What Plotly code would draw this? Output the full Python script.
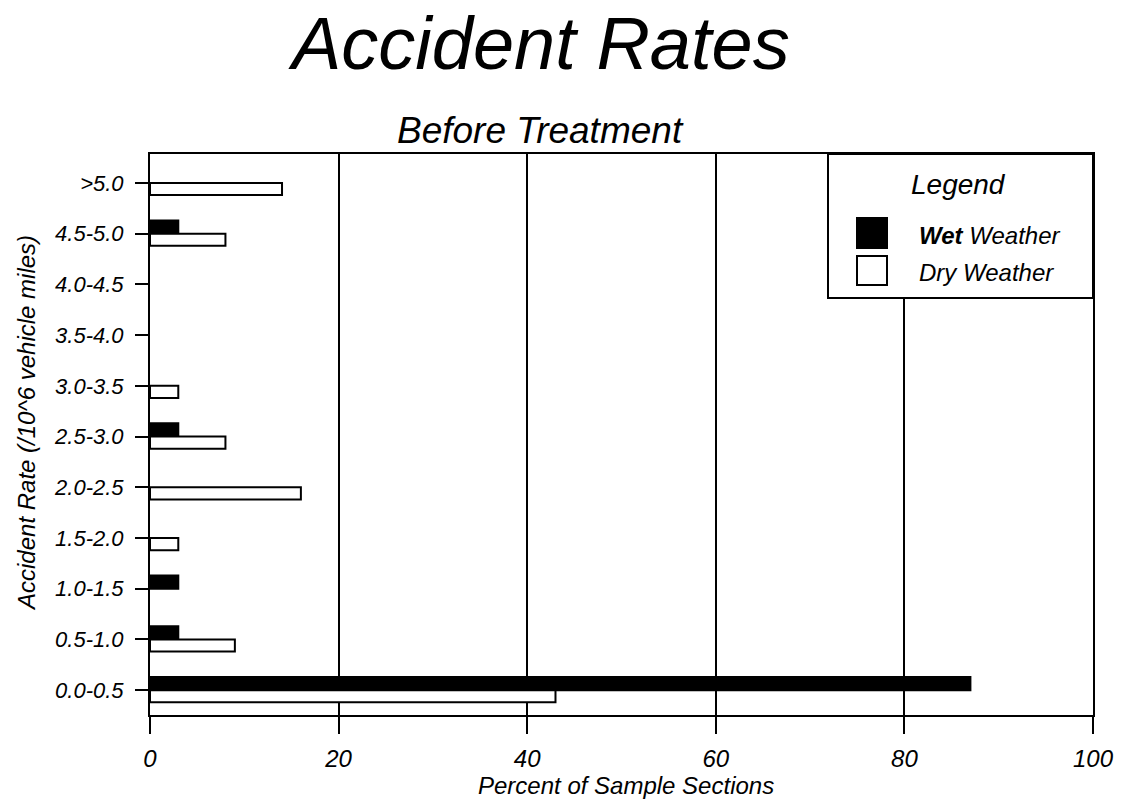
import plotly.graph_objects as go

categories = ["0.0-0.5", "0.5-1.0", "1.0-1.5", "1.5-2.0", "2.0-2.5", "2.5-3.0",
              "3.0-3.5", "3.5-4.0", "4.0-4.5", "4.5-5.0", ">5.0"]
wet = [87, 3, 3, None, None, 3, None, None, None, 3, None]
dry = [43, 9, None, 3, 16, 8, 3, None, None, 8, 14]
x_ticks = [0, 20, 40, 60, 80, 100]

FONT = "Liberation Sans, Arial, sans-serif"
OFF = 0  # page body margin (removed below)
W, H = 1128, 803
PL, PR, PT, PB = 150, 1093, 154, 715  # plot area in screen pixels
L, T = PL - OFF, PT - OFF
R = W - (PR - OFF)
B = H - (PB - OFF)
pw, ph = PR - PL, PB - PT


def px(xp):
    return (xp - PL) / pw


def py(yp):
    return (PB - yp) / ph


fig = go.Figure()
fig.add_trace(go.Bar(y=categories, x=wet, orientation="h", name="Wet Weather",
                     offset=0, width=0.26,
                     marker=dict(color="black", line=dict(color="black", width=2))))
fig.add_trace(go.Bar(y=categories, x=dry, orientation="h", name="Dry Weather",
                     offset=-0.24, width=0.24,
                     marker=dict(color="white", line=dict(color="black", width=2))))

fig.update_layout(
    width=W, height=H,
    margin=dict(l=L, r=R, t=T, b=B, autoexpand=False),
    paper_bgcolor="white", plot_bgcolor="white",
    barmode="overlay", showlegend=False,
    font=dict(family=FONT, color="black"),
)
fig.update_xaxes(
    range=[0, 100], tickvals=x_ticks, ticktext=[str(v) for v in x_ticks],
    showgrid=True, gridcolor="black", gridwidth=2,
    showline=True, linecolor="black", linewidth=2, mirror=True,
    ticks="outside", ticklen=17, tickwidth=2, tickcolor="black",
    tickfont=dict(size=24, style="italic", family=FONT),
    ticklabelstandoff=4,
    zeroline=False,
)
fig.update_yaxes(
    type="category", categoryorder="array", categoryarray=categories,
    range=[-0.49, 10.57],
    showgrid=False,
    showline=True, linecolor="black", linewidth=2, mirror=True,
    ticks="outside", ticklen=13, tickwidth=2, tickcolor="black",
    tickfont=dict(size=22, style="italic", family=FONT),
    ticklabelstandoff=7,
)

# Axis titles
fig.add_annotation(text="Percent of Sample Sections", xref="paper", yref="paper",
                   x=px(626), y=py(785), xanchor="center", yanchor="middle",
                   showarrow=False, font=dict(size=24, style="italic", family=FONT))
fig.add_annotation(text="Accident Rate (/10^6 vehicle miles)", xref="paper", yref="paper",
                   x=px(26), y=py(423), xanchor="center", yanchor="middle",
                   textangle=-90, showarrow=False,
                   font=dict(size=24, style="italic", family=FONT))

# Titles
fig.add_annotation(text="Accident Rates", xref="paper", yref="paper",
                   x=px(539), y=py(43), xanchor="center", yanchor="middle",
                   showarrow=False, font=dict(size=74, style="italic", family=FONT))
fig.add_annotation(text="Before Treatment", xref="paper", yref="paper",
                   x=px(540), y=py(130), xanchor="center", yanchor="middle",
                   showarrow=False, font=dict(size=37, style="italic", family=FONT))

# Legend box
fig.add_shape(type="rect", xref="paper", yref="paper",
              x0=px(828), x1=1.0, y0=py(298), y1=1.0,
              fillcolor="white", line=dict(color="black", width=2), layer="above")
fig.add_shape(type="rect", xref="paper", yref="paper",
              x0=px(857), x1=px(887), y0=py(248), y1=py(218),
              fillcolor="black", line=dict(color="black", width=2), layer="above")
fig.add_shape(type="rect", xref="paper", yref="paper",
              x0=px(857), x1=px(887), y0=py(285), y1=py(256),
              fillcolor="white", line=dict(color="black", width=2), layer="above")
fig.add_annotation(text="Legend", xref="paper", yref="paper",
                   x=px(958), y=py(184), xanchor="center", yanchor="middle",
                   showarrow=False, font=dict(size=28, style="italic", family=FONT))
fig.add_annotation(text="<b>Wet</b> Weather", xref="paper", yref="paper",
                   x=px(917), y=py(236), xanchor="left", yanchor="middle",
                   showarrow=False, font=dict(size=24, style="italic", family=FONT))
fig.add_annotation(text="Dry Weather", xref="paper", yref="paper",
                   x=px(917), y=py(272), xanchor="left", yanchor="middle",
                   showarrow=False, font=dict(size=24, style="italic", family=FONT))

fig.write_html("out.html", config={"displayModeBar": False},
               post_script="document.body.style.margin='0';document.body.style.overflow='hidden';")
